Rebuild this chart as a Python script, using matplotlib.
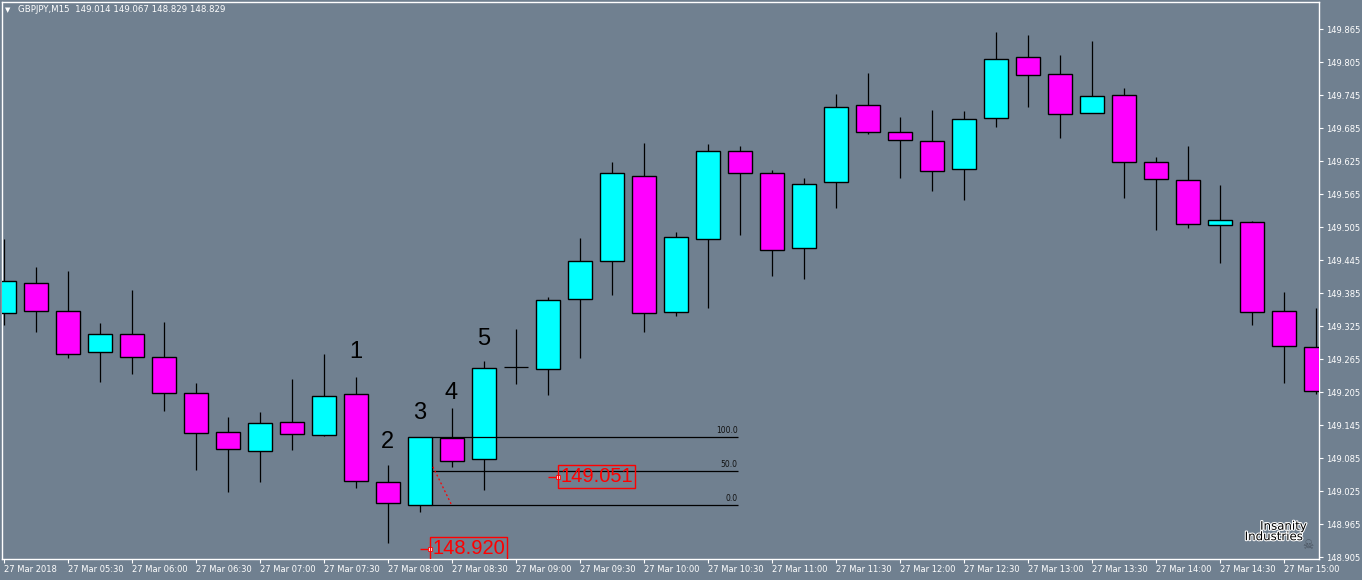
import matplotlib.pyplot as plt
from matplotlib.patches import Rectangle
import matplotlib.patheffects as pe

# GBPJPY M15 candles, 27 Mar 2018 05:00 .. 15:15
opens = [149.348, 149.404, 149.352, 149.277, 149.310, 149.268, 149.203, 149.132,
         149.097, 149.150, 149.126, 149.201, 149.041, 149.000, 149.121, 149.084,
         149.250, 149.246, 149.375, 149.443, 149.597, 149.350, 149.483, 149.644,
         149.603, 149.466, 149.586, 149.726, 149.677, 149.661, 149.610, 149.703,
         149.814, 149.783, 149.712, 149.745, 149.624, 149.590, 149.508, 149.515,
         149.352, 149.286]
highs = [149.483, 149.432, 149.425, 149.330, 149.390, 149.332, 149.221, 149.160,
         149.169, 149.229, 149.274, 149.232, 149.072, 149.123, 149.176, 149.261,
         149.320, 149.378, 149.485, 149.623, 149.658, 149.496, 149.656, 149.652,
         149.609, 149.594, 149.747, 149.785, 149.705, 149.718, 149.716, 149.860,
         149.854, 149.818, 149.843, 149.758, 149.632, 149.652, 149.581, 149.516,
         149.387, 149.358]
lows = [149.327, 149.315, 149.266, 149.224, 149.238, 149.171, 149.064, 149.024,
        149.042, 149.100, 149.125, 149.031, 148.930, 148.986, 149.069, 149.026,
        149.220, 149.200, 149.266, 149.382, 149.315, 149.344, 149.358, 149.491,
        149.416, 149.411, 149.540, 149.675, 149.595, 149.571, 149.555, 149.686,
        149.724, 149.667, 149.712, 149.558, 149.500, 149.504, 149.440, 149.326,
        149.222, 149.202]
closes = [149.406, 149.352, 149.275, 149.310, 149.268, 149.203, 149.130, 149.101,
          149.148, 149.128, 149.197, 149.044, 149.003, 149.123, 149.079, 149.248,
          149.250, 149.372, 149.443, 149.603, 149.348, 149.486, 149.643, 149.603,
          149.463, 149.584, 149.723, 149.678, 149.664, 149.606, 149.701, 149.810,
          149.781, 149.710, 149.743, 149.624, 149.592, 149.510, 149.517, 149.350,
          149.288, 149.206]

x_labels = ['27 Mar 2018', '27 Mar 05:30', '27 Mar 06:00', '27 Mar 06:30', '27 Mar 07:00',
            '27 Mar 07:30', '27 Mar 08:00', '27 Mar 08:30', '27 Mar 09:00', '27 Mar 09:30',
            '27 Mar 10:00', '27 Mar 10:30', '27 Mar 11:00', '27 Mar 11:30', '27 Mar 12:00',
            '27 Mar 12:30', '27 Mar 13:00', '27 Mar 13:30', '27 Mar 14:00', '27 Mar 14:30',
            '27 Mar 15:00']
y_ticks = [148.905, 148.965, 149.025, 149.085, 149.145, 149.205, 149.265, 149.325, 149.385,
           149.445, 149.505, 149.565, 149.625, 149.685, 149.745, 149.805, 149.865]

# wave labels 1..5 (candle index, price)
wave_idx = [11, 12, 13, 14, 15]
wave_y = [149.278, 149.115, 149.166, 149.204, 149.301]

# fibo retracement
fib_low, fib_high = 149.000, 149.123
fib_levels = [0.0, 50.0, 100.0]
price_marks = [148.920, 149.051]
price_mark_x = [13.4, 17.4]

bg = '#708090'
plt.rcParams['font.family'] = 'DejaVu Sans'

fig = plt.figure(figsize=(13.62, 5.8), dpi=100, facecolor=bg)
ax = fig.add_axes([2 / 1362, 21 / 580, 1317 / 1362, 557 / 580], facecolor=bg)

w = 0.75
for i in range(len(opens)):
    o, h, l, c = opens[i], highs[i], lows[i], closes[i]
    ax.vlines(i, l, h, color='black', lw=0.9, zorder=2)
    if c == o:
        ax.hlines(o, i - w / 2, i + w / 2, color='black', lw=0.9, zorder=3)
        continue
    col = '#00ffff' if c > o else '#ff00ff'
    ax.add_patch(Rectangle((i - w / 2, min(o, c)), w, abs(c - o),
                           facecolor=col, edgecolor='black', lw=1.0, zorder=3))

# wave numbers
for k, (xi, yi) in enumerate(zip(wave_idx, wave_y)):
    ax.text(xi, yi, str(k + 1), ha='center', va='center', fontsize=17,
            family='Liberation Sans', color='black', zorder=5)

# fibo lines
fx0, fx1 = 13.38, 22.94
for lv in fib_levels:
    yv = fib_low + (fib_high - fib_low) * lv / 100
    ax.hlines(yv, fx0, fx1, color='black', lw=0.9, zorder=4)
    ax.text(fx1, yv + 0.004, f'{lv:.1f}', ha='right', va='bottom', fontsize=5.5,
            color='#111111', zorder=5)
ax.plot([13.42, 14.0], [149.069, fib_low], color='red', ls=(0, (1.5, 2)), lw=0.9, zorder=4)

# red price labels
for px, pv in zip(price_mark_x, price_marks):
    ax.hlines(pv, px - 0.37, px - 0.07, color='red', lw=1, zorder=5)
    ax.plot(px - 0.07, pv, marker='s', ms=2.5, mfc='white', mec='red', mew=0.6, zorder=6)
    ax.text(px, pv, f'{pv:.3f}', ha='left', va='center', fontsize=14.5, color='red',
            family='Liberation Sans', clip_on=True,
            bbox=dict(facecolor='none', edgecolor='red', lw=1, pad=1.5), zorder=6)

# axes styling
ax.set_xlim(-0.047, 41.109)
ax.set_ylim(148.9014, 149.9141)
for s in ax.spines.values():
    s.set_color('white')
    s.set_linewidth(1)
ax.yaxis.tick_right()
ax.set_yticks(y_ticks)
ax.set_yticklabels([f'{v:.3f}' for v in y_ticks])
ax.set_xticks(range(0, 41, 2))
ax.set_xticklabels(x_labels, ha='left')
ax.tick_params(axis='both', colors='white', labelcolor='white', labelsize=6,
               length=3, width=0.8, direction='out')
ax.tick_params(axis='y', pad=2)
ax.tick_params(axis='x', pad=1.5)

# header text
fig.text(5 / 1362, 1 - 10 / 580, '\u25bc', color='white', fontsize=5, va='center')
fig.text(18 / 1362, 1 - 10 / 580, 'GBPJPY,M15  149.014 149.067 148.829 148.829',
         color='white', fontsize=6.2, va='center')

# logo
outline = [pe.withStroke(linewidth=1.5, foreground='white')]
ax.text(40.0, 148.961, 'Insanity', ha='center', va='center', fontsize=8.5,
        color='black', path_effects=outline, zorder=7)
ax.text(39.7, 148.942, 'Industries', ha='center', va='center', fontsize=8.5,
        color='black', path_effects=outline, zorder=7)
ax.text(40.75, 148.926, '\u2620', ha='center', va='center', fontsize=9,
        color='#4a5460', zorder=7)

fig.savefig('out.png', dpi=100, facecolor=bg)
